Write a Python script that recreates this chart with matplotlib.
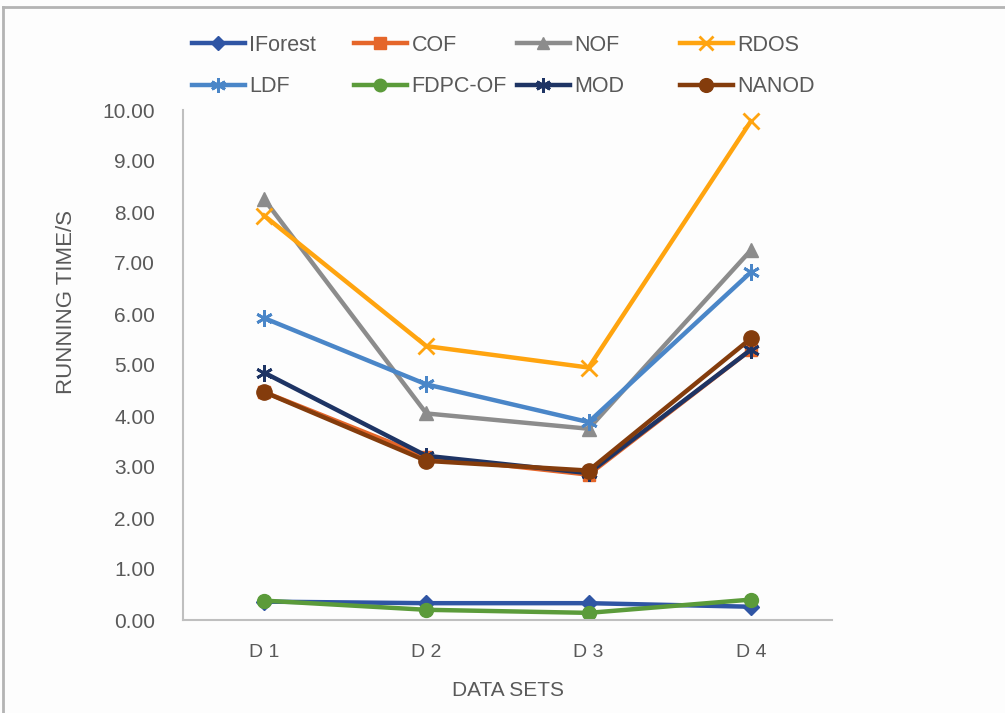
import matplotlib
matplotlib.use("Agg")
import matplotlib.pyplot as plt
from matplotlib.lines import Line2D

plt.rcParams['font.family'] = ['Liberation Sans', 'DejaVu Sans']

# data
datasets = ['D 1', 'D 2', 'D 3', 'D 4']
iforest = [0.36, 0.33, 0.33, 0.26]
cof = [4.47, 3.20, 2.85, 5.30]
nof = [8.25, 4.05, 3.75, 7.25]
rdos = [7.93, 5.37, 4.95, 9.78]
ldf = [5.92, 4.62, 3.88, 6.82]
fdpc_of = [0.38, 0.20, 0.14, 0.40]
mod = [4.85, 3.22, 2.88, 5.30]
nanod = [4.47, 3.12, 2.93, 5.52]

series = [
    ('IForest', iforest, '#2F55A4', 'D', 8),
    ('COF', cof, '#E5662A', 's', 9),
    ('NOF', nof, '#8C8C8C', '^', 10),
    ('RDOS', rdos, '#FFA40F', 'x', 11),
    ('LDF', ldf, '#4A86C8', (6, 2, 0), 12),
    ('FDPC-OF', fdpc_of, '#5B9B3A', 'o', 10),
    ('MOD', mod, '#1E3464', (6, 2, 0), 12),
    ('NANOD', nanod, '#843C0C', 'o', 11),
]

text_col = '#595959'

fig = plt.figure(figsize=(10.05, 7.13), dpi=100)
fig.patch.set_facecolor('#FDFDFD')
ax = fig.add_axes([183 / 1005, 1 - 620 / 713, (832 - 183) / 1005, (620 - 110) / 713])
ax.set_facecolor('#FDFDFD')

x = list(range(len(datasets)))
handles = []
for name, vals, col, mk, ms in series:
    h, = ax.plot(x, vals, color=col, lw=3.2, marker=mk, markersize=ms,
                 markeredgewidth=2 if mk in ('x',) or isinstance(mk, tuple) else 1,
                 markeredgecolor=col, markerfacecolor=col, label=name)
    handles.append(h)

ax.set_xlim(-0.5, 3.5)
ax.set_ylim(0, 10)
ax.set_yticks([i for i in range(11)])
ax.set_yticklabels(['%.2f' % i for i in range(11)])
ax.set_xticks(x)
ax.set_xticklabels(datasets)
ax.tick_params(length=0, labelsize=15, labelcolor=text_col)
ax.tick_params(axis='x', labelsize=14, pad=17)
ax.tick_params(axis='y', pad=20)
for s in ['top', 'right']:
    ax.spines[s].set_visible(False)
for s in ['left', 'bottom']:
    ax.spines[s].set_color('#BFBFBF')
    ax.spines[s].set_linewidth(1.5)

fig.text(67 / 1005, 1 - 302 / 713, 'RUNNING TIME/S', rotation=90, ha='center',
         va='center', fontsize=16, color=text_col)
fig.text(508 / 1005, 1 - 690 / 713, 'DATA SETS', ha='center', va='center',
         fontsize=15, color=text_col)

# legend: four equal-width columns, two rows
col_x = [192, 354, 517, 680]
for i, cx in enumerate(col_x):
    hs = [handles[i], handles[i + 4]]
    leg = fig.legend(hs, [h.get_label() for h in hs], loc='upper left',
                     bbox_to_anchor=(cx / 1005, 1 - 35 / 713), frameon=False,
                     borderpad=0, borderaxespad=0, handlelength=2.45,
                     handletextpad=0.22, labelspacing=0.95, fontsize=15.5,
                     labelcolor=text_col, markerscale=0.9)

# outer frame (top and left visible in reference)
fig.add_artist(Line2D([3 / 1005, 1], [1 - 7 / 713, 1 - 7 / 713], color='#B4B4B4',
                      lw=2, transform=fig.transFigure))
fig.add_artist(Line2D([3 / 1005, 3 / 1005], [0, 1 - 7 / 713], color='#B4B4B4',
                      lw=2, transform=fig.transFigure))

fig.savefig('out.png', dpi=100, facecolor=fig.get_facecolor())
